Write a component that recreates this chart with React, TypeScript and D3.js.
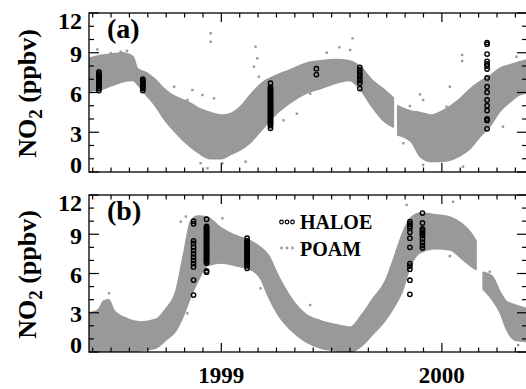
import React from 'react';
import * as d3 from 'd3';

// ---- values ----
const xStart = 1998.4;
const xEnd = 2000.386;
const yearLabels = [1999, 2000];
const yLabels = [0, 3, 6, 9, 12];

// POAM cloud, panel (a): envelope of the dense band (NaN marks a data gap)
const poamADates = [1998.40, 1998.45, 1998.50, 1998.55, 1998.60, 1998.62, 1998.66, 1998.70, 1998.74, 1998.78, 1998.82, 1998.86, 1998.90, 1998.95, 1999.00, 1999.04, 1999.09, 1999.13, 1999.19, 1999.25, 1999.31, 1999.38, 1999.45, 1999.52, 1999.58, 1999.64, 1999.68, 1999.74, 1999.78, 1999.79, 1999.80, 1999.86, 1999.90, 1999.95, 2000.00, 2000.04, 2000.08, 2000.13, 2000.17, 2000.22, 2000.26, 2000.31, 2000.35, 2000.39];
const poamALow = [6.1, 6.2, 6.5, 6.8, 6.9, 6.6, 5.8, 5.0, 4.0, 3.2, 2.5, 1.9, 1.4, 1.0, 1.0, 1.3, 1.7, 2.2, 3.3, 4.4, 5.2, 5.9, 6.3, 6.7, 6.9, 6.0, 5.0, 3.8, 3.4, NaN, 2.8, 2.3, 1.2, 0.8, 0.8, 0.9, 1.2, 1.8, 2.6, 3.5, 4.5, 5.3, 5.8, 6.0];
const poamAHigh = [8.6, 8.8, 8.9, 9.0, 8.7, 7.8, 7.5, 7.0, 6.3, 5.8, 5.5, 5.2, 4.8, 4.5, 4.3, 4.4, 5.0, 5.8, 6.8, 7.3, 7.7, 8.2, 8.4, 8.5, 8.4, 7.8, 7.0, 6.2, 5.6, NaN, 5.0, 4.6, 4.5, 4.3, 4.6, 5.0, 5.5, 6.3, 6.8, 7.3, 7.8, 8.1, 8.3, 8.5];
// scattered POAM points outside the band, panel (a)
const poamAOutDates = [1998.438, 1998.499, 1998.544, 1998.572, 1998.952, 1998.952, 1998.846, 1998.869, 1998.914, 1998.967, 1998.937, 1998.906, 1999.005, 1999.110, 1999.155, 1999.163, 1999.148, 1999.170, 1998.786, 1998.695, 1999.595, 1999.535, 1999.584, 1999.478, 2000.092, 2000.092, 1999.901, 1999.915, 1999.855, 1999.825, 1999.915, 1999.976, 2000.021, 2000.096, 1999.342, 1999.282, 1999.403, 1999.765, 2000.338, 2000.247, 2000.277, 2000.036];
const poamAOutValues = [9.25, 8.96, 9.08, 9.15, 10.47, 9.83, 5.43, 6.19, 5.81, 5.56, 0.28, 0.66, 0.66, 0.78, 9.46, 8.58, 7.95, 7.19, 6.44, 5.43, 10.09, 9.41, 9.21, 9.01, 8.83, 8.38, 5.86, 5.43, 4.98, 2.17, 0.53, 1.91, 4.93, 0.40, 4.4, 3.9, 5.91, 5.43, 8.7, 7.19, 3.42, 6.44];

// POAM cloud, panel (b)
const poamBDates = [1998.40, 1998.44, 1998.467, 1998.49, 1998.513, 1998.567, 1998.635, 1998.703, 1998.748, 1998.793, 1998.829, 1998.861, 1998.893, 1998.938, 1998.997, 1999.065, 1999.133, 1999.178, 1999.214, 1999.259, 1999.314, 1999.382, 1999.449, 1999.517, 1999.585, 1999.639, 1999.684, 1999.743, 1999.789, 1999.82, 1999.856, 1999.902, 1999.97, 2000.038, 2000.092, 2000.128, 2000.155, 2000.17, 2000.187, 2000.228, 2000.264, 2000.291, 2000.332, 2000.39];
const poamBLow = [0.0, 0.0, 0.0, 0.0, 0.0, 0.0, 0.1, 0.3, 0.9, 1.6, 2.8, 4.2, 5.4, 6.6, 6.8, 6.6, 6.3, 5.6, 4.2, 2.8, 1.7, 0.8, 0.3, 0.1, 0.0, 0.5, 1.3, 2.4, 3.6, 4.6, 6.5, 7.6, 7.9, 7.8, 7.1, 6.6, 6.3, NaN, 4.8, 4.0, 3.0, 1.8, 0.9, 0.8];
const poamBHigh = [3.0, 3.2, 3.9, 4.0, 3.2, 2.6, 2.3, 2.5, 3.3, 4.6, 7.5, 10.0, 10.4, 10.3, 9.5, 8.9, 8.5, 8.0, 7.4, 5.8, 4.2, 2.9, 2.4, 2.1, 1.9, 2.9, 4.0, 5.4, 7.5, 9.0, 10.2, 10.6, 10.5, 10.3, 9.8, 9.2, 8.5, NaN, 6.1, 5.8, 4.6, 3.9, 3.6, 3.3];
const poamBOutDates = [1998.846, 1998.491, 1998.476, 1998.756, 1998.793, 1998.816, 1998.839, 1999.005, 1999.057, 1999.163, 1999.178, 1999.403, 1999.508, 1999.689, 1999.840, 2000.051, 2000.036, 2000.096, 1999.825, 1999.795, 1999.795, 2000.217, 2000.232, 2000.292, 2000.346, 1999.251, 1999.282];
const poamBOutValues = [2.96, 4.49, 3.85, 2.45, 3.6, 9.96, 10.35, 10.22, 8.69, 7.67, 4.87, 3.59, 2.06, 1.81, 11.24, 11.49, 7.33, 7.97, 8.94, 7.71, 6.9, 6.14, 5.38, 3.59, 0.53, 5.41, 4.4];

// HALOE occultations: one date per column, values in each column
const haloeADates = [1998.445, 1998.644, 1999.223, 1999.431, 1999.628, 2000.205];
const haloeAValues = [
  [7.55, 7.4, 7.3, 7.2, 7.15, 7.05, 6.95, 6.9, 6.8, 6.7, 6.65, 6.55, 6.45, 6.3, 6.15],
  [7.0, 6.9, 6.8, 6.7, 6.6, 6.5, 6.4, 6.3, 6.15],
  [6.7, 6.4, 6.3, 6.2, 6.1, 6.0, 5.9, 5.8, 5.7, 5.6, 5.5, 5.4, 5.3, 5.2, 5.1, 5.0, 4.9, 4.8, 4.7, 4.6, 4.5, 4.4, 4.3, 4.2, 4.1, 4.0, 3.9, 3.8, 3.7, 3.6, 3.5, 3.3],
  [7.8, 7.35],
  [7.9, 7.7, 7.5, 7.3, 7.1, 6.9, 6.7, 6.3],
  [9.77, 9.65, 8.9, 8.35, 8.15, 8.0, 7.77, 7.1, 6.44, 6.02, 5.44, 5.0, 4.64, 4.0, 3.89, 3.26],
];
const haloeBDates = [1998.874, 1998.933, 1999.117, 1999.855, 1999.912];
const haloeBValues = [
  [10.0, 9.8, 8.5, 8.3, 8.0, 7.75, 7.5, 7.25, 7.0, 6.75, 6.5, 5.5, 4.35],
  [10.15, 9.6, 9.5, 9.4, 9.3, 9.2, 9.1, 9.0, 8.9, 8.8, 8.7, 8.6, 8.5, 8.4, 8.3, 8.2, 8.1, 8.0, 7.9, 7.8, 7.7, 7.6, 7.5, 7.4, 7.3, 7.2, 7.1, 7.0, 6.9, 6.8, 6.2, 6.1],
  [8.7, 8.5, 8.4, 8.3, 8.2, 8.1, 8.0, 7.9, 7.8, 7.7, 7.6, 7.5, 7.4, 7.3, 7.2, 7.1, 7.0, 6.9, 6.8, 6.7, 6.6, 6.4],
  [9.96, 9.79, 9.61, 9.45, 9.15, 8.7, 8.0, 6.76, 6.57, 6.33, 5.49, 4.41],
  [10.62, 9.86, 9.41, 9.28, 9.15, 9.03, 8.9, 8.65, 8.39, 8.14, 7.94],
];

const gray = '#999999';
const font = '"Liberation Serif", "Times New Roman", serif';

const left = 89;
const right = 527;

const x = d3.scaleLinear().domain([xStart, xEnd]).range([left, right]);
const months = d3
  .range(Math.ceil(xStart * 12), Math.floor(xEnd * 12) + 1)
  .map((m) => ({ v: m / 12, major: m % 12 === 0 }));
const yTicks = d3.range(0, 13);

function Panel({ id, top, bottom, label, dates, low, high, outDates, outValues, hDates, hValues, legend }) {
  const y = d3.scaleLinear().domain([0, 12]).range([bottom, top]);
  const idx = d3.range(dates.length);
  const band = d3
    .area<number>()
    .defined((i) => !isNaN(low[i]))
    .x((i) => x(dates[i]))
    .y0((i) => y(low[i]))
    .y1((i) => y(high[i]))
    .curve(d3.curveMonotoneX);
  const d = band(idx) || '';
  const mid = (top + bottom) / 2;

  return (
    <g>
      <defs>
        <clipPath id={`clip-${id}`}>
          <rect x={left} y={top} width={right - left} height={bottom - top} />
        </clipPath>
      </defs>
      <g clipPath={`url(#clip-${id})`}>
        <path d={d} fill={gray} stroke={gray} strokeWidth={1.5} strokeLinejoin="round" />
        {outDates.map((t, i) => (
          <rect key={i} x={x(t) - 1.2} y={y(outValues[i]) - 1.2} width={2.4} height={2.4} fill={gray} />
        ))}
        {hDates.map((t, j) =>
          hValues[j].map((v, k) => (
            <circle key={`${j}-${k}`} cx={x(t)} cy={y(v)} r={2.2} fill="none" stroke="#000" strokeWidth={1.4} />
          ))
        )}
      </g>

      {/* frame */}
      <rect x={left} y={top} width={right - left} height={bottom - top} fill="none" stroke="#000" strokeWidth={1.3} />
      {/* x ticks, inward on top and bottom */}
      {months.map((m, i) => {
        const xx = x(m.v);
        const len = m.major ? 9 : 4.5;
        return (
          <g key={i} stroke="#000" strokeWidth={1.2}>
            <line x1={xx} x2={xx} y1={top} y2={top + len} />
            <line x1={xx} x2={xx} y1={bottom} y2={bottom - len} />
          </g>
        );
      })}
      {/* y ticks, inward on left and right */}
      {yTicks.map((v) => {
        const yy = y(v);
        const len = v % 3 === 0 ? 10 : 5;
        return (
          <g key={v} stroke="#000" strokeWidth={1.2}>
            <line x1={left} x2={left + len} y1={yy} y2={yy} />
            <line x1={right} x2={right - len} y1={yy} y2={yy} />
          </g>
        );
      })}
      {yLabels.map((v) => {
        let cy = y(v) + 1;
        if (v === 12) cy = top + 7.5;
        if (v === 0) cy = bottom - 7.5;
        return (
          <text key={v} x={82} y={cy} dy="0.35em" textAnchor="end" fontFamily={font} fontWeight="bold" fontSize={24}>
            {v}
          </text>
        );
      })}
      <text transform={`translate(36,${mid + 1}) rotate(-90)`} textAnchor="middle" fontFamily={font} fontWeight="bold" fontSize={26}>
        NO<tspan fontSize={19} dy={6}>2</tspan>
        <tspan dy={-6}> (ppbv)</tspan>
      </text>
      <text x={107} y={top + 25} fontFamily={font} fontWeight="bold" fontSize={28}>
        {label}
      </text>
      {legend && (
        <g fontFamily={font} fontWeight="bold" fontSize={20}>
          {[0, 1, 2].map((k) => (
            <circle key={`lc${k}`} cx={281.5 + k * 5.5} cy={222} r={1.8} fill="none" stroke="#000" strokeWidth={1.2} />
          ))}
          <text x={300} y={229}>HALOE</text>
          {[0, 1, 2].map((k) => (
            <circle key={`lp${k}`} cx={281.5 + k * 5.5} cy={248} r={1.4} fill={gray} />
          ))}
          <text x={300} y={256}>POAM</text>
        </g>
      )}
    </g>
  );
}

export default function App() {
  return (
    <svg width={526} height={389} style={{ position: 'absolute', left: 0, top: 0, background: '#fff' }}>
      <Panel
        id="a"
        top={13}
        bottom={172}
        label="(a)"
        dates={poamADates}
        low={poamALow}
        high={poamAHigh}
        outDates={poamAOutDates}
        outValues={poamAOutValues}
        hDates={haloeADates}
        hValues={haloeAValues}
        legend={false}
      />
      <Panel
        id="b"
        top={195}
        bottom={352}
        label="(b)"
        dates={poamBDates}
        low={poamBLow}
        high={poamBHigh}
        outDates={poamBOutDates}
        outValues={poamBOutValues}
        hDates={haloeBDates}
        hValues={haloeBValues}
        legend={true}
      />
      {yearLabels.map((yr) => (
        <text key={yr} x={x(yr)} y={383} textAnchor="middle" fontFamily={font} fontWeight="bold" fontSize={23}>
          {yr}
        </text>
      ))}
    </svg>
  );
}
